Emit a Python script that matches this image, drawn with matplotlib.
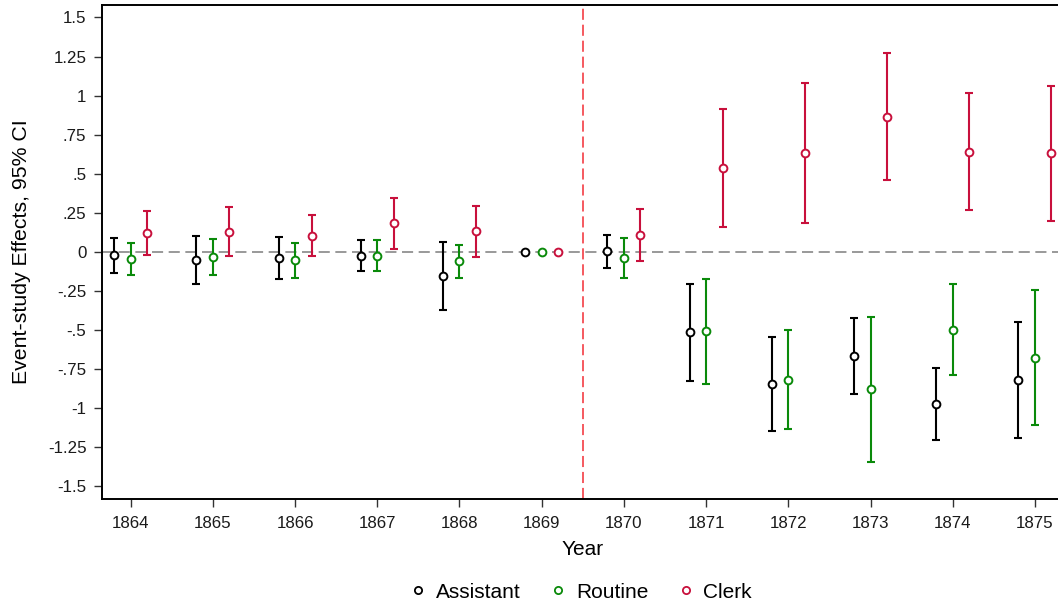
import numpy as np
import matplotlib
matplotlib.use("Agg")
import matplotlib.pyplot as plt
from matplotlib.lines import Line2D

plt.rcParams['font.family'] = ['Liberation Sans', 'DejaVu Sans']
plt.rcParams['lines.scale_dashes'] = False

nan = np.nan
years = np.arange(1864, 1876)

# point estimates and 95% CI bounds (1869 is the omitted reference year)
assistant_est = [-0.020, -0.050, -0.040, -0.023, -0.151, 0.0, 0.006, -0.515, -0.843, -0.664, -0.973, -0.822]
assistant_lo = [-0.134, -0.204, -0.176, -0.123, -0.371, nan, -0.100, -0.824, -1.146, -0.907, -1.205, -1.188]
assistant_hi = [0.092, 0.105, 0.096, 0.079, 0.066, nan, 0.111, -0.202, -0.541, -0.424, -0.739, -0.451]

routine_est = [-0.047, -0.029, -0.053, -0.023, -0.059, 0.0, -0.040, -0.507, -0.818, -0.879, -0.498, -0.679]
routine_lo = [-0.149, -0.145, -0.166, -0.119, -0.168, nan, -0.168, -0.843, -1.135, -1.342, -0.788, -1.109]
routine_hi = [0.058, 0.083, 0.058, 0.077, 0.047, nan, 0.088, -0.170, -0.496, -0.417, -0.204, -0.245]

clerk_est = [0.121, 0.130, 0.105, 0.185, 0.132, 0.0, 0.109, 0.539, 0.633, 0.865, 0.639, 0.631]
clerk_lo = [-0.019, -0.027, -0.027, 0.022, -0.032, nan, -0.059, 0.162, 0.183, 0.458, 0.266, 0.198]
clerk_hi = [0.260, 0.286, 0.239, 0.348, 0.296, nan, 0.277, 0.916, 1.084, 1.272, 1.014, 1.061]

series_names = ["Assistant", "Routine", "Clerk"]
series_colors = ["black", "#0a8a0a", "#c8103c"]
offsets = [-0.2, 0.0, 0.2]

ytick_vals = [1.5, 1.25, 1, 0.75, 0.5, 0.25, 0, -0.25, -0.5, -0.75, -1, -1.25, -1.5]
ytick_labels = ["1.5", "1.25", "1", ".75", ".5", ".25", "0", "-.25", "-.5", "-.75", "-1", "-1.25", "-1.5"]

fig = plt.figure(figsize=(10.58, 6.06), dpi=100)
ax = fig.add_axes([0.0961, 0.1766, 0.9095, 0.8152])

ax.axhline(0, color="#888888", lw=1.2, dashes=(8, 4), zorder=1)
ax.axvline(1869.5, color="#f5595f", lw=1.4, dashes=(8, 3.5), zorder=1)

data = [
    (assistant_est, assistant_lo, assistant_hi),
    (routine_est, routine_lo, routine_hi),
    (clerk_est, clerk_lo, clerk_hi),
]
for (est, lo, hi), color, off in zip(data, series_colors, offsets):
    est = np.array(est)
    lo = np.array(lo)
    hi = np.array(hi)
    x = years + off
    has_ci = ~np.isnan(lo)
    ax.errorbar(x[has_ci], est[has_ci],
                yerr=[est[has_ci] - lo[has_ci], hi[has_ci] - est[has_ci]],
                fmt="none", ecolor=color, elinewidth=1.5, capsize=2.8,
                capthick=1.5, zorder=2)
    ax.plot(x, est, linestyle="none", marker="o", markersize=5.6,
            markerfacecolor="white", markeredgecolor=color,
            markeredgewidth=1.4, zorder=3)

ax.set_xlim(1863.647, 1875.353)
ax.set_ylim(-1.58, 1.58)
ax.set_xticks(years)
ax.set_xticklabels([str(y) for y in years])
ax.set_yticks(ytick_vals)
ax.set_yticklabels(ytick_labels)

ax.tick_params(axis="both", direction="out", length=6, width=1,
               color="#333333", labelsize=12.2, labelcolor="#1a1a1a")
ax.tick_params(axis="y", pad=5)
ax.tick_params(axis="x", pad=6)
for side in ["left", "bottom", "top", "right"]:
    ax.spines[side].set_linewidth(1.4)
    ax.spines[side].set_color("black")

ax.set_xlabel("Year", fontsize=15, labelpad=7)
ax.set_ylabel("Event-study Effects, 95% CI", fontsize=15.3, labelpad=12)

handles = [Line2D([], [], linestyle="none", marker="o", markersize=5.2,
                  markerfacecolor="white", markeredgecolor=c,
                  markeredgewidth=1.3) for c in series_colors]
fig.legend(handles, series_names, loc="center", ncol=3,
           bbox_to_anchor=(582 / 1058, 1 - 592 / 606), frameon=False,
           fontsize=15, handlelength=0.6, handletextpad=0.55,
           columnspacing=1.5, borderaxespad=0, borderpad=0)

fig.savefig("out.png", dpi=100)
